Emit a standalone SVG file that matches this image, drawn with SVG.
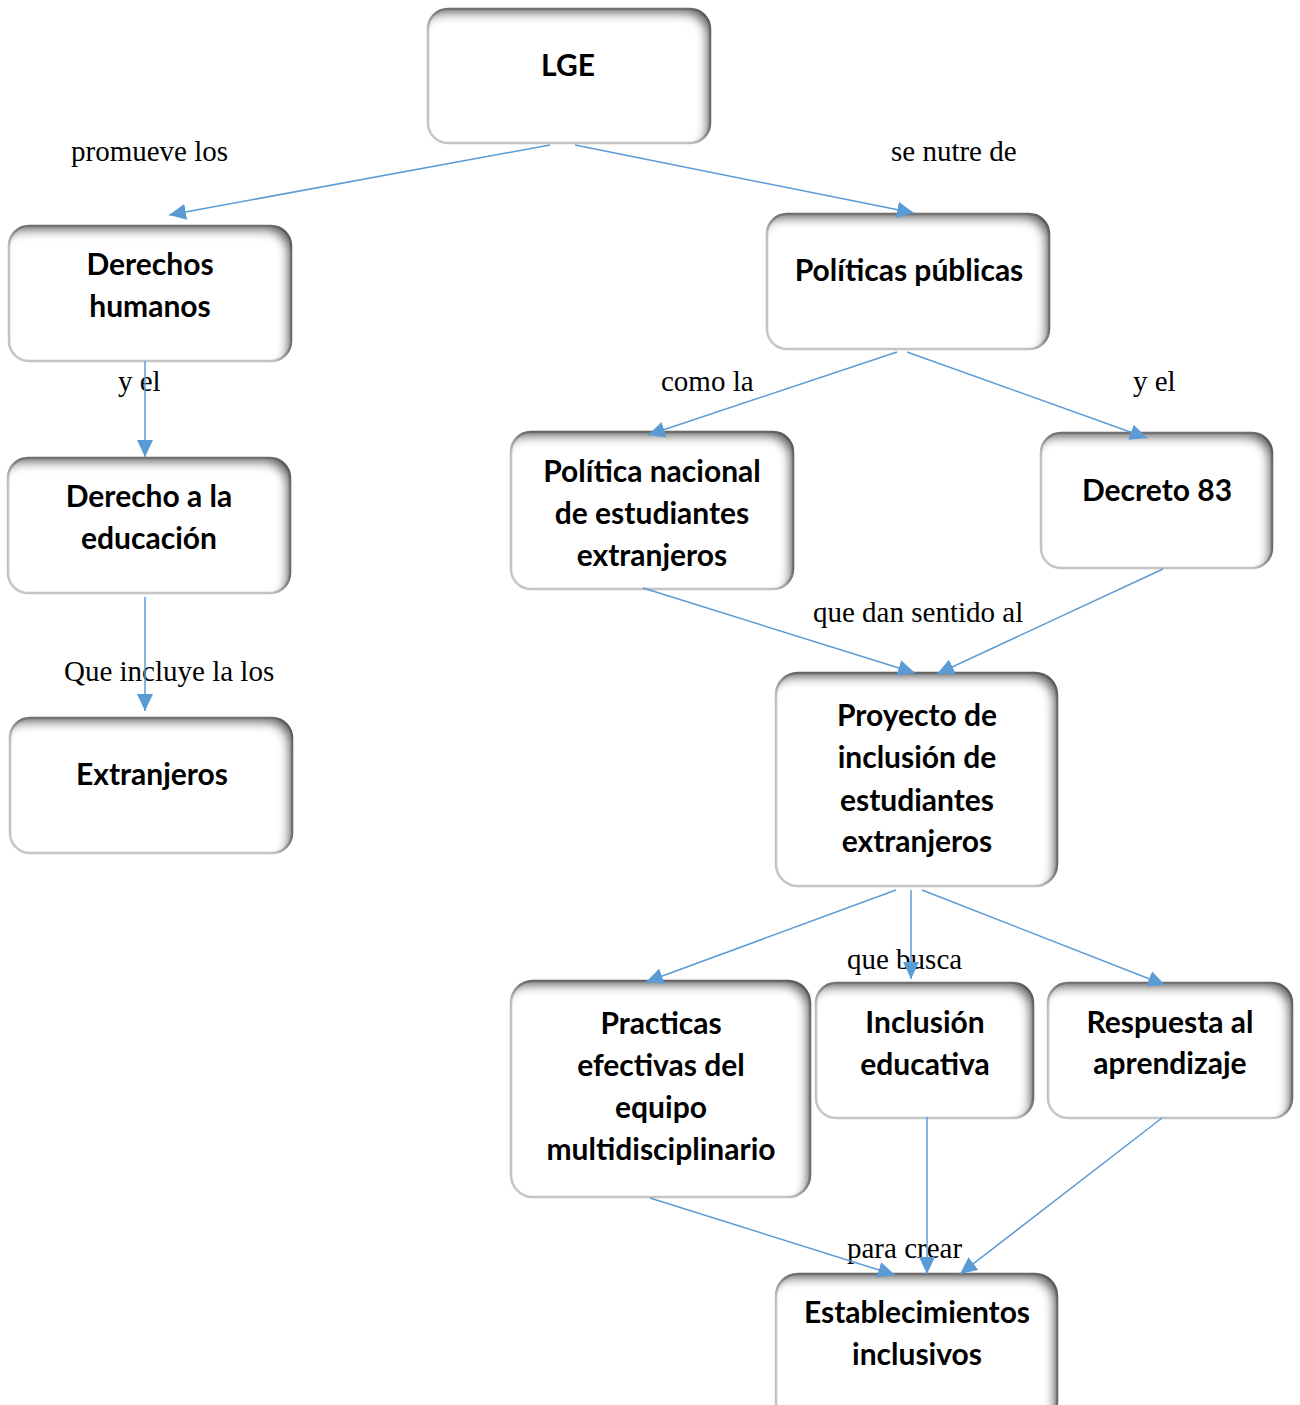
<svg xmlns="http://www.w3.org/2000/svg" width="1300" height="1405" viewBox="0 0 1300 1405">
<style>
.box{fill:#fff;stroke:#c8c8c8;stroke-width:2.5;filter:url(#inner)}
.t{font-family:Lato,"Open Sans",sans-serif;font-weight:700;font-size:30px;fill:#000;text-anchor:middle}
.lbl{font-family:"Liberation Serif","Times New Roman",serif;font-size:29px;fill:#000}
.c{stroke:#5b9bd5;stroke-width:1.5;fill:none;marker-end:url(#ah)}
</style>
<defs>
<filter id="inner" x="-10%" y="-10%" width="120%" height="120%">
<feFlood flood-color="#000" flood-opacity="0.85"/>
<feComposite in2="SourceAlpha" operator="out"/>
<feOffset dx="-6" dy="7"/>
<feGaussianBlur stdDeviation="5"/>
<feComposite in2="SourceAlpha" operator="in" result="sh"/>
<feMerge><feMergeNode in="SourceGraphic"/><feMergeNode in="sh"/></feMerge>
</filter>
<marker id="ah" markerUnits="userSpaceOnUse" markerWidth="18" markerHeight="16" refX="17" refY="8" orient="auto">
<path d="M0,0 L17,8 L0,16 z" fill="#5b9bd5"/>
</marker>
</defs>
<rect width="1300" height="1405" fill="#fff"/>

<g id="n-lge"><rect class="box" x="428" y="9" width="282" height="134" rx="20"/><text class="t" x="568" y="76">LGE</text></g>
<g id="n-dh"><rect class="box" x="9" y="226" width="282" height="135" rx="20"/><text class="t" x="150" y="275">Derechos</text><text class="t" x="150" y="317">humanos</text></g>
<g id="n-pp"><rect class="box" x="767" y="214" width="282" height="135" rx="20"/><text class="t" x="909" y="281">Políticas públicas</text></g>
<g id="n-de"><rect class="box" x="8" y="458" width="282" height="135" rx="20"/><text class="t" x="149" y="507">Derecho a la</text><text class="t" x="149" y="549">educación</text></g>
<g id="n-ext"><rect class="box" x="10" y="718" width="282" height="135" rx="20"/><text class="t" x="152" y="785">Extranjeros</text></g>
<g id="n-pn"><rect class="box" x="511" y="432" width="282" height="157" rx="20"/><text class="t" x="652" y="482">Política nacional</text><text class="t" x="652" y="524">de estudiantes</text><text class="t" x="652" y="566">extranjeros</text></g>
<g id="n-dec"><rect class="box" x="1041" y="433" width="231" height="135" rx="20"/><text class="t" x="1157" y="501">Decreto 83</text></g>
<g id="n-proy"><rect class="box" x="776" y="673" width="281" height="213" rx="22"/><text class="t" x="917" y="726">Proyecto de</text><text class="t" x="917" y="768">inclusión de</text><text class="t" x="917" y="811">estudiantes</text><text class="t" x="917" y="852">extranjeros</text></g>
<g id="n-prac"><rect class="box" x="511" y="981" width="299" height="216" rx="22"/><text class="t" x="661" y="1034">Practicas</text><text class="t" x="661" y="1076">efectivas del</text><text class="t" x="661" y="1118">equipo</text><text class="t" x="661" y="1160">multidisciplinario</text></g>
<g id="n-inc"><rect class="box" x="816" y="983" width="217" height="135" rx="20"/><text class="t" x="925" y="1033">Inclusión</text><text class="t" x="925" y="1075">educativa</text></g>
<g id="n-resp"><rect class="box" x="1048" y="983" width="244" height="135" rx="20"/><text class="t" x="1170" y="1033">Respuesta al</text><text class="t" x="1170" y="1074">aprendizaje</text></g>
<g id="n-est"><rect class="box" x="776" y="1274" width="281" height="150" rx="22"/><text class="t" x="917" y="1323">Establecimientos</text><text class="t" x="917" y="1365">inclusivos</text></g>

<g id="labels">
<text class="lbl" x="71" y="161">promueve los</text>
<text class="lbl" x="891" y="161">se nutre de</text>
<text class="lbl" x="118" y="391">y el</text>
<text class="lbl" x="661" y="391">como la</text>
<text class="lbl" x="1133" y="391">y el</text>
<text class="lbl" x="813" y="622">que dan sentido al</text>
<text class="lbl" x="64" y="681">Que incluye la los</text>
<text class="lbl" x="847" y="969">que busca</text>
<text class="lbl" x="847" y="1258">para crear</text>
</g>

<g id="connectors">
<line class="c" x1="550" y1="145" x2="169" y2="215"/>
<line class="c" x1="575" y1="145" x2="914" y2="213"/>
<line class="c" x1="145" y1="361" x2="145" y2="457"/>
<line class="c" x1="145" y1="597" x2="145" y2="711"/>
<line class="c" x1="897" y1="352" x2="648" y2="435"/>
<line class="c" x1="907" y1="352" x2="1147" y2="438"/>
<line class="c" x1="643" y1="588" x2="915" y2="673"/>
<line class="c" x1="1163" y1="569" x2="937" y2="674"/>
<line class="c" x1="896" y1="890" x2="646" y2="982"/>
<line class="c" x1="911" y1="890" x2="911" y2="979"/>
<line class="c" x1="922" y1="890" x2="1165" y2="985"/>
<line class="c" x1="650" y1="1198" x2="895" y2="1275"/>
<line class="c" x1="927" y1="1117" x2="927" y2="1274"/>
<line class="c" x1="1162" y1="1118" x2="960" y2="1274"/>
</g>
</svg>
